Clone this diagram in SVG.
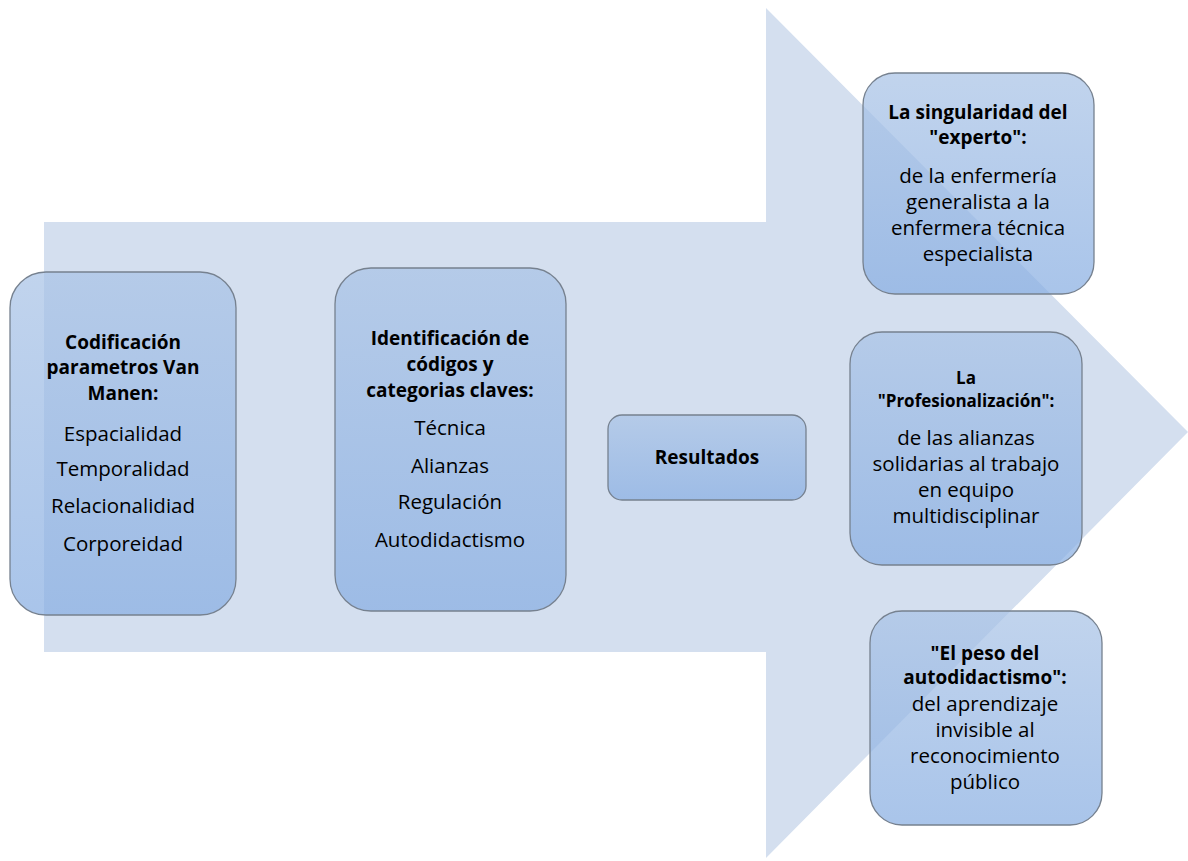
<svg xmlns="http://www.w3.org/2000/svg" width="1188" height="861" viewBox="0 0 1188 861">
<style>
.box{fill:url(#g);fill-opacity:0.72;stroke:#76818f;stroke-width:1.3}
text{font-family:"Open Sans","Noto Sans","Liberation Sans",sans-serif;fill:#000;text-anchor:middle}
.b{font-weight:bold;font-size:19px}
.r{font-size:20.5px}
</style>
<defs>
<linearGradient id="g" x1="0" y1="0" x2="0" y2="1">
<stop offset="0" stop-color="#a9c3e6"/>
<stop offset="1" stop-color="#88aee2"/>
</linearGradient>
</defs>
<rect width="1188" height="861" fill="#fff"/>
<g id="connectors">
<polygon points="44,222 766,222 766,8 1188,432 766,858 766,652 44,652" fill="#d4dfef"/>
</g>
<g id="n1">
<rect class="box" x="10" y="272" width="226" height="343" rx="36"/>
<text class="b" x="123" y="349">Codificación</text>
<text class="b" x="123" y="374">parametros Van</text>
<text class="b" x="123" y="400">Manen:</text>
<text class="r" x="123" y="441">Espacialidad</text>
<text class="r" x="123" y="476">Temporalidad</text>
<text class="r" x="123" y="513">Relacionalidiad</text>
<text class="r" x="123" y="551">Corporeidad</text>
</g>
<g id="n2">
<rect class="box" x="335" y="268" width="231" height="343" rx="36"/>
<text class="b" x="450" y="345">Identificación de</text>
<text class="b" x="450" y="371">códigos y</text>
<text class="b" x="450" y="397">categorias claves:</text>
<text class="r" x="450" y="435">Técnica</text>
<text class="r" x="450" y="473">Alianzas</text>
<text class="r" x="450" y="509">Regulación</text>
<text class="r" x="450" y="547">Autodidactismo</text>
</g>
<g id="n3">
<rect class="box" x="608" y="415" width="198" height="85" rx="14"/>
<text class="b" x="707" y="464">Resultados</text>
</g>
<g id="n4">
<rect class="box" x="863" y="73" width="231" height="221" rx="32"/>
<text class="b" x="978" y="119">La singularidad del</text>
<text class="b" x="978" y="144">"experto":</text>
<text class="r" x="978" y="183">de la enfermería</text>
<text class="r" x="978" y="209">generalista a la</text>
<text class="r" x="978" y="235">enfermera técnica</text>
<text class="r" x="978" y="261">especialista</text>
</g>
<g id="n5">
<rect class="box" x="850" y="332" width="232" height="233" rx="32"/>
<text class="b" x="966" y="384" style="font-size:17px">La</text>
<text class="b" x="966" y="407" style="font-size:17px">"Profesionalización":</text>
<text class="r" x="966" y="445">de las alianzas</text>
<text class="r" x="966" y="471">solidarias al trabajo</text>
<text class="r" x="966" y="497">en equipo</text>
<text class="r" x="966" y="523">multidisciplinar</text>
</g>
<g id="n6">
<rect class="box" x="870" y="611" width="232" height="214" rx="32"/>
<text class="b" x="985" y="660">"El peso del</text>
<text class="b" x="985" y="684">autodidactismo":</text>
<text class="r" x="985" y="711">del aprendizaje</text>
<text class="r" x="985" y="737">invisible al</text>
<text class="r" x="985" y="763">reconocimiento</text>
<text class="r" x="985" y="789">público</text>
</g>
</svg>
